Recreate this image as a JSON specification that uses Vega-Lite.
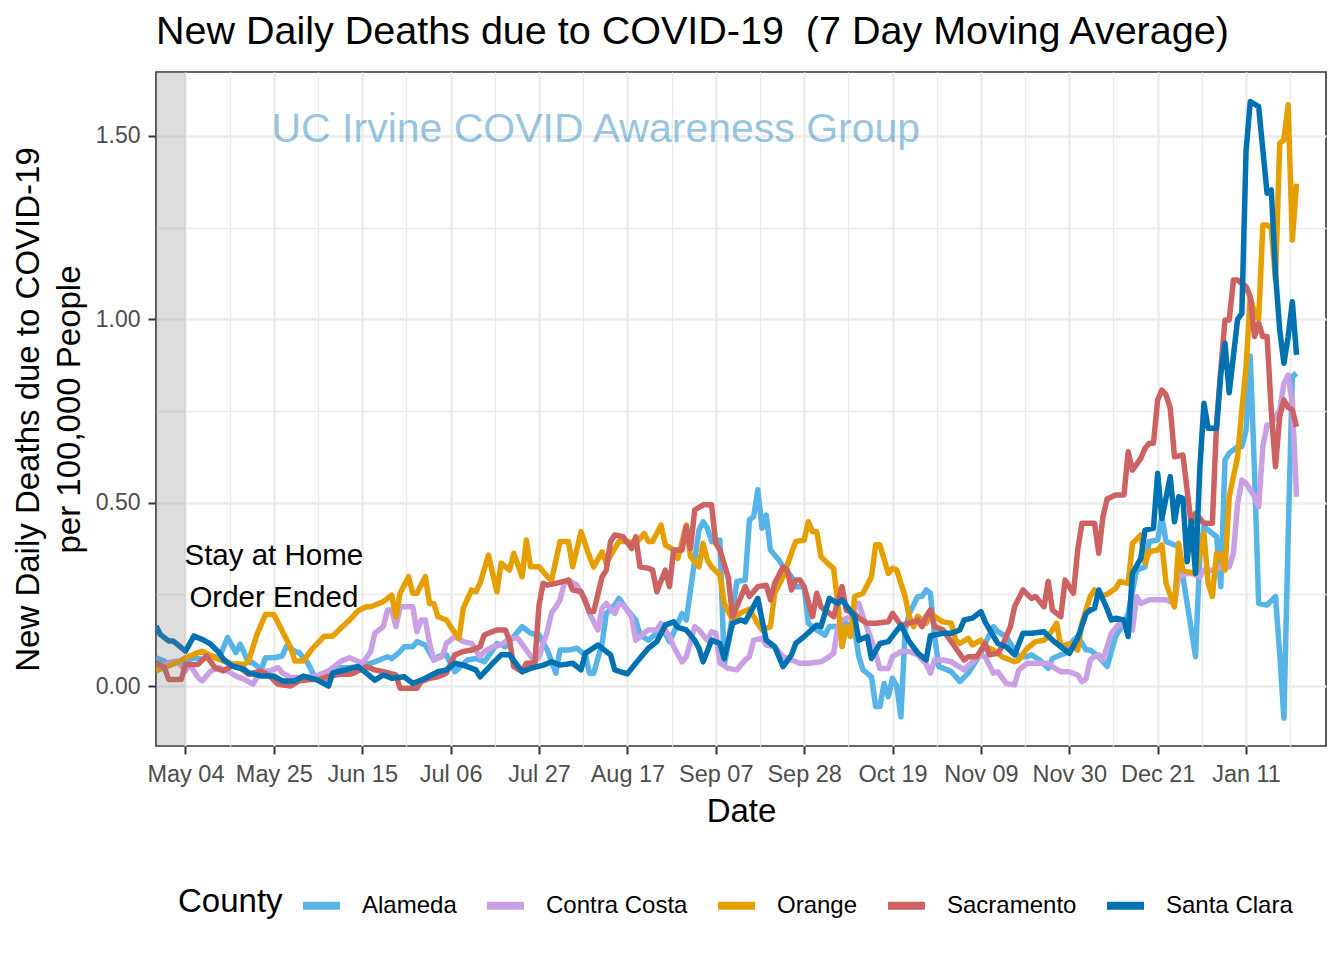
{
"$schema": "https://vega.github.io/schema/vega-lite/v6.json",
"width": 1170, "height": 674,
"autosize": {"type": "none"},
"padding": {"left": 156, "top": 72, "right": 18, "bottom": 214},
"background": "white",
"config": {"font": "Liberation Sans", "view": {"stroke": "#333333", "strokeWidth": 1.6}},
"title": {"text": "New Daily Deaths due to COVID-19\u00a0 (7 Day Moving Average)", "anchor": "start", "frame": "group", "fontSize": 39.5, "fontWeight": "normal", "color": "#000000", "font": "Liberation Sans", "offset": 20},
"datasets": {
"band": [{"start": "2020-04-20", "end": "2020-05-04"}],
"wm": [{"date": "2020-08-09T12:00:00Z", "value": 1.516, "label": "UC Irvine COVID Awareness Group"}],
"note": [{"date": "2020-05-25", "value": 0.3545, "label": "Stay at Home\nOrder Ended"}],
"deaths": [
{"date":"2020-04-27","county":"Alameda","value":0.077},{"date":"2020-04-29","county":"Alameda","value":0.068},{"date":"2020-04-30","county":"Alameda","value":0.059},{"date":"2020-05-02","county":"Alameda","value":0.064},{"date":"2020-05-04","county":"Alameda","value":0.068},{"date":"2020-05-06","county":"Alameda","value":0.077},{"date":"2020-05-08","county":"Alameda","value":0.073},{"date":"2020-05-10","county":"Alameda","value":0.082},{"date":"2020-05-12","county":"Alameda","value":0.077},{"date":"2020-05-14","county":"Alameda","value":0.132},{"date":"2020-05-16","county":"Alameda","value":0.091},{"date":"2020-05-17","county":"Alameda","value":0.114},{"date":"2020-05-19","county":"Alameda","value":0.064},{"date":"2020-05-20","county":"Alameda","value":0.064},{"date":"2020-05-22","county":"Alameda","value":0.045},{"date":"2020-05-23","county":"Alameda","value":0.077},{"date":"2020-05-25","county":"Alameda","value":0.077},{"date":"2020-05-27","county":"Alameda","value":0.082},{"date":"2020-05-28","county":"Alameda","value":0.109},{"date":"2020-05-30","county":"Alameda","value":0.095},{"date":"2020-05-31","county":"Alameda","value":0.091},{"date":"2020-06-02","county":"Alameda","value":0.064},{"date":"2020-06-04","county":"Alameda","value":0.018},{"date":"2020-06-07","county":"Alameda","value":0.005},{"date":"2020-06-08","county":"Alameda","value":0.041},{"date":"2020-06-10","county":"Alameda","value":0.05},{"date":"2020-06-12","county":"Alameda","value":0.05},{"date":"2020-06-14","county":"Alameda","value":0.053},{"date":"2020-06-17","county":"Alameda","value":0.062},{"date":"2020-06-18","county":"Alameda","value":0.066},{"date":"2020-06-21","county":"Alameda","value":0.08},{"date":"2020-06-22","county":"Alameda","value":0.075},{"date":"2020-06-24","county":"Alameda","value":0.094},{"date":"2020-06-25","county":"Alameda","value":0.107},{"date":"2020-06-27","county":"Alameda","value":0.107},{"date":"2020-06-28","county":"Alameda","value":0.121},{"date":"2020-06-30","county":"Alameda","value":0.112},{"date":"2020-07-02","county":"Alameda","value":0.071},{"date":"2020-07-03","county":"Alameda","value":0.08},{"date":"2020-07-05","county":"Alameda","value":0.085},{"date":"2020-07-07","county":"Alameda","value":0.039},{"date":"2020-07-10","county":"Alameda","value":0.071},{"date":"2020-07-12","county":"Alameda","value":0.075},{"date":"2020-07-14","county":"Alameda","value":0.066},{"date":"2020-07-16","county":"Alameda","value":0.098},{"date":"2020-07-17","county":"Alameda","value":0.116},{"date":"2020-07-19","county":"Alameda","value":0.107},{"date":"2020-07-21","county":"Alameda","value":0.135},{"date":"2020-07-23","county":"Alameda","value":0.162},{"date":"2020-07-25","county":"Alameda","value":0.144},{"date":"2020-07-27","county":"Alameda","value":0.14},{"date":"2020-07-28","county":"Alameda","value":0.116},{"date":"2020-07-29","county":"Alameda","value":0.098},{"date":"2020-07-31","county":"Alameda","value":0.035},{"date":"2020-08-01","county":"Alameda","value":0.098},{"date":"2020-08-03","county":"Alameda","value":0.098},{"date":"2020-08-05","county":"Alameda","value":0.103},{"date":"2020-08-07","county":"Alameda","value":0.085},{"date":"2020-08-08","county":"Alameda","value":0.035},{"date":"2020-08-09","county":"Alameda","value":0.035},{"date":"2020-08-11","county":"Alameda","value":0.116},{"date":"2020-08-12","county":"Alameda","value":0.198},{"date":"2020-08-14","county":"Alameda","value":0.221},{"date":"2020-08-15","county":"Alameda","value":0.239},{"date":"2020-08-17","county":"Alameda","value":0.207},{"date":"2020-08-19","county":"Alameda","value":0.18},{"date":"2020-08-20","county":"Alameda","value":0.139},{"date":"2020-08-22","county":"Alameda","value":0.125},{"date":"2020-08-24","county":"Alameda","value":0.144},{"date":"2020-08-26","county":"Alameda","value":0.144},{"date":"2020-08-27","county":"Alameda","value":0.121},{"date":"2020-08-29","county":"Alameda","value":0.171},{"date":"2020-08-30","county":"Alameda","value":0.198},{"date":"2020-08-31","county":"Alameda","value":0.18},{"date":"2020-09-02","county":"Alameda","value":0.344},{"date":"2020-09-03","county":"Alameda","value":0.425},{"date":"2020-09-04","county":"Alameda","value":0.448},{"date":"2020-09-05","county":"Alameda","value":0.43},{"date":"2020-09-06","county":"Alameda","value":0.394},{"date":"2020-09-08","county":"Alameda","value":0.398},{"date":"2020-09-09","county":"Alameda","value":0.057},{"date":"2020-09-10","county":"Alameda","value":0.116},{"date":"2020-09-12","county":"Alameda","value":0.285},{"date":"2020-09-14","county":"Alameda","value":0.289},{"date":"2020-09-15","county":"Alameda","value":0.453},{"date":"2020-09-16","county":"Alameda","value":0.462},{"date":"2020-09-17","county":"Alameda","value":0.535},{"date":"2020-09-18","county":"Alameda","value":0.43},{"date":"2020-09-19","county":"Alameda","value":0.466},{"date":"2020-09-20","county":"Alameda","value":0.371},{"date":"2020-09-21","county":"Alameda","value":0.357},{"date":"2020-09-22","county":"Alameda","value":0.344},{"date":"2020-09-23","county":"Alameda","value":0.325},{"date":"2020-09-25","county":"Alameda","value":0.298},{"date":"2020-09-26","county":"Alameda","value":0.271},{"date":"2020-09-28","county":"Alameda","value":0.271},{"date":"2020-09-29","county":"Alameda","value":0.171},{"date":"2020-10-01","county":"Alameda","value":0.153},{"date":"2020-10-03","county":"Alameda","value":0.139},{"date":"2020-10-04","county":"Alameda","value":0.162},{"date":"2020-10-06","county":"Alameda","value":0.162},{"date":"2020-10-08","county":"Alameda","value":0.171},{"date":"2020-10-10","county":"Alameda","value":0.153},{"date":"2020-10-11","county":"Alameda","value":0.08},{"date":"2020-10-12","county":"Alameda","value":0.044},{"date":"2020-10-14","county":"Alameda","value":0.025},{"date":"2020-10-15","county":"Alameda","value":-0.056},{"date":"2020-10-16","county":"Alameda","value":-0.056},{"date":"2020-10-17","county":"Alameda","value":0.007},{"date":"2020-10-18","county":"Alameda","value":-0.029},{"date":"2020-10-19","county":"Alameda","value":0.021},{"date":"2020-10-20","county":"Alameda","value":0.0},{"date":"2020-10-21","county":"Alameda","value":-0.084},{"date":"2020-10-22","county":"Alameda","value":0.153},{"date":"2020-10-23","county":"Alameda","value":0.198},{"date":"2020-10-25","county":"Alameda","value":0.244},{"date":"2020-10-26","county":"Alameda","value":0.244},{"date":"2020-10-27","county":"Alameda","value":0.262},{"date":"2020-10-28","county":"Alameda","value":0.253},{"date":"2020-10-29","county":"Alameda","value":0.135},{"date":"2020-10-30","county":"Alameda","value":0.053},{"date":"2020-11-01","county":"Alameda","value":0.044},{"date":"2020-11-02","county":"Alameda","value":0.039},{"date":"2020-11-04","county":"Alameda","value":0.012},{"date":"2020-11-06","county":"Alameda","value":0.035},{"date":"2020-11-07","county":"Alameda","value":0.053},{"date":"2020-11-09","county":"Alameda","value":0.089},{"date":"2020-11-10","county":"Alameda","value":0.116},{"date":"2020-11-12","county":"Alameda","value":0.162},{"date":"2020-11-13","county":"Alameda","value":0.148},{"date":"2020-11-15","county":"Alameda","value":0.135},{"date":"2020-11-17","county":"Alameda","value":0.098},{"date":"2020-11-18","county":"Alameda","value":0.08},{"date":"2020-11-20","county":"Alameda","value":0.08},{"date":"2020-11-21","county":"Alameda","value":0.085},{"date":"2020-11-23","county":"Alameda","value":0.071},{"date":"2020-11-25","county":"Alameda","value":0.048},{"date":"2020-11-26","county":"Alameda","value":0.075},{"date":"2020-11-28","county":"Alameda","value":0.085},{"date":"2020-11-29","county":"Alameda","value":0.089},{"date":"2020-12-01","county":"Alameda","value":0.125},{"date":"2020-12-02","county":"Alameda","value":0.135},{"date":"2020-12-04","county":"Alameda","value":0.098},{"date":"2020-12-05","county":"Alameda","value":0.098},{"date":"2020-12-07","county":"Alameda","value":0.08},{"date":"2020-12-09","county":"Alameda","value":0.053},{"date":"2020-12-11","county":"Alameda","value":0.135},{"date":"2020-12-13","county":"Alameda","value":0.171},{"date":"2020-12-14","county":"Alameda","value":0.198},{"date":"2020-12-16","county":"Alameda","value":0.316},{"date":"2020-12-18","county":"Alameda","value":0.325},{"date":"2020-12-19","county":"Alameda","value":0.394},{"date":"2020-12-21","county":"Alameda","value":0.398},{"date":"2020-12-22","county":"Alameda","value":0.462},{"date":"2020-12-23","county":"Alameda","value":0.394},{"date":"2020-12-25","county":"Alameda","value":0.385},{"date":"2020-12-26","county":"Alameda","value":0.38},{"date":"2020-12-27","county":"Alameda","value":0.298},{"date":"2020-12-29","county":"Alameda","value":0.153},{"date":"2020-12-30","county":"Alameda","value":0.08},{"date":"2020-12-31","county":"Alameda","value":0.353},{"date":"2021-01-01","county":"Alameda","value":0.435},{"date":"2021-01-02","county":"Alameda","value":0.425},{"date":"2021-01-04","county":"Alameda","value":0.407},{"date":"2021-01-05","county":"Alameda","value":0.271},{"date":"2021-01-06","county":"Alameda","value":0.616},{"date":"2021-01-07","county":"Alameda","value":0.635},{"date":"2021-01-09","county":"Alameda","value":0.653},{"date":"2021-01-10","county":"Alameda","value":0.653},{"date":"2021-01-11","county":"Alameda","value":0.698},{"date":"2021-01-12","county":"Alameda","value":0.9},{"date":"2021-01-13","county":"Alameda","value":0.589},{"date":"2021-01-14","county":"Alameda","value":0.225},{"date":"2021-01-16","county":"Alameda","value":0.221},{"date":"2021-01-18","county":"Alameda","value":0.244},{"date":"2021-01-19","county":"Alameda","value":0.089},{"date":"2021-01-20","county":"Alameda","value":-0.088},{"date":"2021-01-21","county":"Alameda","value":0.407},{"date":"2021-01-22","county":"Alameda","value":0.844},{"date":"2021-01-23","county":"Alameda","value":0.853},
{"date":"2020-04-27","county":"Contra Costa","value":0.041},{"date":"2020-04-30","county":"Contra Costa","value":0.064},{"date":"2020-05-02","county":"Contra Costa","value":0.068},{"date":"2020-05-04","county":"Contra Costa","value":0.041},{"date":"2020-05-05","county":"Contra Costa","value":0.059},{"date":"2020-05-07","county":"Contra Costa","value":0.023},{"date":"2020-05-08","county":"Contra Costa","value":0.014},{"date":"2020-05-10","county":"Contra Costa","value":0.041},{"date":"2020-05-12","county":"Contra Costa","value":0.05},{"date":"2020-05-14","county":"Contra Costa","value":0.041},{"date":"2020-05-16","county":"Contra Costa","value":0.027},{"date":"2020-05-18","county":"Contra Costa","value":0.018},{"date":"2020-05-20","county":"Contra Costa","value":0.005},{"date":"2020-05-22","county":"Contra Costa","value":0.041},{"date":"2020-05-24","county":"Contra Costa","value":0.041},{"date":"2020-05-26","county":"Contra Costa","value":0.05},{"date":"2020-05-27","county":"Contra Costa","value":0.036},{"date":"2020-05-29","county":"Contra Costa","value":0.023},{"date":"2020-06-01","county":"Contra Costa","value":0.023},{"date":"2020-06-04","county":"Contra Costa","value":0.027},{"date":"2020-06-07","county":"Contra Costa","value":0.041},{"date":"2020-06-10","county":"Contra Costa","value":0.068},{"date":"2020-06-12","county":"Contra Costa","value":0.077},{"date":"2020-06-15","county":"Contra Costa","value":0.062},{"date":"2020-06-17","county":"Contra Costa","value":0.094},{"date":"2020-06-18","county":"Contra Costa","value":0.144},{"date":"2020-06-20","county":"Contra Costa","value":0.162},{"date":"2020-06-21","county":"Contra Costa","value":0.207},{"date":"2020-06-22","county":"Contra Costa","value":0.207},{"date":"2020-06-23","county":"Contra Costa","value":0.162},{"date":"2020-06-24","county":"Contra Costa","value":0.216},{"date":"2020-06-27","county":"Contra Costa","value":0.216},{"date":"2020-06-28","county":"Contra Costa","value":0.148},{"date":"2020-06-29","county":"Contra Costa","value":0.18},{"date":"2020-06-30","county":"Contra Costa","value":0.18},{"date":"2020-07-01","county":"Contra Costa","value":0.116},{"date":"2020-07-02","county":"Contra Costa","value":0.071},{"date":"2020-07-04","county":"Contra Costa","value":0.08},{"date":"2020-07-05","county":"Contra Costa","value":0.116},{"date":"2020-07-07","county":"Contra Costa","value":0.135},{"date":"2020-07-09","county":"Contra Costa","value":0.121},{"date":"2020-07-11","county":"Contra Costa","value":0.116},{"date":"2020-07-13","county":"Contra Costa","value":0.08},{"date":"2020-07-14","county":"Contra Costa","value":0.094},{"date":"2020-07-16","county":"Contra Costa","value":0.107},{"date":"2020-07-18","county":"Contra Costa","value":0.112},{"date":"2020-07-20","county":"Contra Costa","value":0.13},{"date":"2020-07-22","county":"Contra Costa","value":0.13},{"date":"2020-07-24","county":"Contra Costa","value":0.098},{"date":"2020-07-26","county":"Contra Costa","value":0.066},{"date":"2020-07-27","county":"Contra Costa","value":0.08},{"date":"2020-07-29","county":"Contra Costa","value":0.15},{"date":"2020-07-30","county":"Contra Costa","value":0.2},{"date":"2020-07-31","county":"Contra Costa","value":0.216},{"date":"2020-08-01","county":"Contra Costa","value":0.235},{"date":"2020-08-02","county":"Contra Costa","value":0.28},{"date":"2020-08-03","county":"Contra Costa","value":0.289},{"date":"2020-08-05","county":"Contra Costa","value":0.275},{"date":"2020-08-07","county":"Contra Costa","value":0.235},{"date":"2020-08-08","county":"Contra Costa","value":0.198},{"date":"2020-08-10","county":"Contra Costa","value":0.153},{"date":"2020-08-11","county":"Contra Costa","value":0.212},{"date":"2020-08-12","county":"Contra Costa","value":0.225},{"date":"2020-08-14","county":"Contra Costa","value":0.198},{"date":"2020-08-15","county":"Contra Costa","value":0.225},{"date":"2020-08-16","county":"Contra Costa","value":0.221},{"date":"2020-08-18","county":"Contra Costa","value":0.189},{"date":"2020-08-19","county":"Contra Costa","value":0.125},{"date":"2020-08-21","county":"Contra Costa","value":0.144},{"date":"2020-08-22","county":"Contra Costa","value":0.153},{"date":"2020-08-24","county":"Contra Costa","value":0.153},{"date":"2020-08-25","county":"Contra Costa","value":0.171},{"date":"2020-08-27","county":"Contra Costa","value":0.135},{"date":"2020-08-28","county":"Contra Costa","value":0.107},{"date":"2020-08-30","county":"Contra Costa","value":0.066},{"date":"2020-08-31","county":"Contra Costa","value":0.08},{"date":"2020-09-02","county":"Contra Costa","value":0.162},{"date":"2020-09-03","county":"Contra Costa","value":0.153},{"date":"2020-09-05","county":"Contra Costa","value":0.125},{"date":"2020-09-06","county":"Contra Costa","value":0.148},{"date":"2020-09-07","county":"Contra Costa","value":0.144},{"date":"2020-09-08","county":"Contra Costa","value":0.062},{"date":"2020-09-10","county":"Contra Costa","value":0.048},{"date":"2020-09-12","county":"Contra Costa","value":0.044},{"date":"2020-09-14","county":"Contra Costa","value":0.071},{"date":"2020-09-15","county":"Contra Costa","value":0.08},{"date":"2020-09-16","county":"Contra Costa","value":0.125},{"date":"2020-09-18","county":"Contra Costa","value":0.13},{"date":"2020-09-19","county":"Contra Costa","value":0.112},{"date":"2020-09-21","county":"Contra Costa","value":0.107},{"date":"2020-09-23","county":"Contra Costa","value":0.08},{"date":"2020-09-25","county":"Contra Costa","value":0.071},{"date":"2020-09-27","county":"Contra Costa","value":0.062},{"date":"2020-09-29","county":"Contra Costa","value":0.062},{"date":"2020-10-02","county":"Contra Costa","value":0.066},{"date":"2020-10-04","county":"Contra Costa","value":0.08},{"date":"2020-10-05","county":"Contra Costa","value":0.089},{"date":"2020-10-06","county":"Contra Costa","value":0.162},{"date":"2020-10-07","county":"Contra Costa","value":0.18},{"date":"2020-10-09","county":"Contra Costa","value":0.189},{"date":"2020-10-10","county":"Contra Costa","value":0.212},{"date":"2020-10-11","county":"Contra Costa","value":0.225},{"date":"2020-10-12","county":"Contra Costa","value":0.189},{"date":"2020-10-14","county":"Contra Costa","value":0.125},{"date":"2020-10-15","county":"Contra Costa","value":0.089},{"date":"2020-10-16","county":"Contra Costa","value":0.048},{"date":"2020-10-18","county":"Contra Costa","value":0.048},{"date":"2020-10-19","county":"Contra Costa","value":0.08},{"date":"2020-10-21","county":"Contra Costa","value":0.094},{"date":"2020-10-23","county":"Contra Costa","value":0.094},{"date":"2020-10-25","county":"Contra Costa","value":0.085},{"date":"2020-10-27","county":"Contra Costa","value":0.06},{"date":"2020-10-28","county":"Contra Costa","value":0.035},{"date":"2020-10-29","county":"Contra Costa","value":0.071},{"date":"2020-10-31","county":"Contra Costa","value":0.071},{"date":"2020-11-02","county":"Contra Costa","value":0.066},{"date":"2020-11-05","county":"Contra Costa","value":0.044},{"date":"2020-11-07","county":"Contra Costa","value":0.066},{"date":"2020-11-09","county":"Contra Costa","value":0.085},{"date":"2020-11-10","county":"Contra Costa","value":0.08},{"date":"2020-11-12","county":"Contra Costa","value":0.035},{"date":"2020-11-13","county":"Contra Costa","value":0.039},{"date":"2020-11-15","county":"Contra Costa","value":0.007},{"date":"2020-11-17","county":"Contra Costa","value":0.003},{"date":"2020-11-18","county":"Contra Costa","value":0.044},{"date":"2020-11-20","county":"Contra Costa","value":0.062},{"date":"2020-11-22","county":"Contra Costa","value":0.062},{"date":"2020-11-25","county":"Contra Costa","value":0.062},{"date":"2020-11-26","county":"Contra Costa","value":0.053},{"date":"2020-11-28","county":"Contra Costa","value":0.039},{"date":"2020-11-30","county":"Contra Costa","value":0.039},{"date":"2020-12-02","county":"Contra Costa","value":0.03},{"date":"2020-12-03","county":"Contra Costa","value":0.012},{"date":"2020-12-04","county":"Contra Costa","value":0.02},{"date":"2020-12-05","county":"Contra Costa","value":0.071},{"date":"2020-12-06","county":"Contra Costa","value":0.08},{"date":"2020-12-07","county":"Contra Costa","value":0.085},{"date":"2020-12-08","county":"Contra Costa","value":0.071},{"date":"2020-12-10","county":"Contra Costa","value":0.144},{"date":"2020-12-12","county":"Contra Costa","value":0.171},{"date":"2020-12-13","county":"Contra Costa","value":0.162},{"date":"2020-12-15","county":"Contra Costa","value":0.153},{"date":"2020-12-16","county":"Contra Costa","value":0.244},{"date":"2020-12-17","county":"Contra Costa","value":0.225},{"date":"2020-12-19","county":"Contra Costa","value":0.235},{"date":"2020-12-21","county":"Contra Costa","value":0.235},{"date":"2020-12-23","county":"Contra Costa","value":0.235},{"date":"2020-12-25","county":"Contra Costa","value":0.225},{"date":"2020-12-26","county":"Contra Costa","value":0.298},{"date":"2020-12-28","county":"Contra Costa","value":0.307},{"date":"2020-12-29","county":"Contra Costa","value":0.307},{"date":"2020-12-31","county":"Contra Costa","value":0.298},{"date":"2021-01-01","county":"Contra Costa","value":0.316},{"date":"2021-01-03","county":"Contra Costa","value":0.316},{"date":"2021-01-05","county":"Contra Costa","value":0.325},{"date":"2021-01-07","county":"Contra Costa","value":0.325},{"date":"2021-01-08","county":"Contra Costa","value":0.362},{"date":"2021-01-09","county":"Contra Costa","value":0.498},{"date":"2021-01-10","county":"Contra Costa","value":0.562},{"date":"2021-01-11","county":"Contra Costa","value":0.553},{"date":"2021-01-13","county":"Contra Costa","value":0.516},{"date":"2021-01-14","county":"Contra Costa","value":0.489},{"date":"2021-01-15","county":"Contra Costa","value":0.653},{"date":"2021-01-16","county":"Contra Costa","value":0.712},{"date":"2021-01-17","county":"Contra Costa","value":0.712},{"date":"2021-01-19","county":"Contra Costa","value":0.753},{"date":"2021-01-20","county":"Contra Costa","value":0.825},{"date":"2021-01-21","county":"Contra Costa","value":0.848},{"date":"2021-01-22","county":"Contra Costa","value":0.771},{"date":"2021-01-23","county":"Contra Costa","value":0.516},
{"date":"2020-04-27","county":"Orange","value":0.041},{"date":"2020-04-29","county":"Orange","value":0.05},{"date":"2020-05-02","county":"Orange","value":0.064},{"date":"2020-05-04","county":"Orange","value":0.077},{"date":"2020-05-07","county":"Orange","value":0.091},{"date":"2020-05-08","county":"Orange","value":0.095},{"date":"2020-05-11","county":"Orange","value":0.077},{"date":"2020-05-13","county":"Orange","value":0.068},{"date":"2020-05-15","county":"Orange","value":0.061},{"date":"2020-05-18","county":"Orange","value":0.059},{"date":"2020-05-19","county":"Orange","value":0.068},{"date":"2020-05-21","county":"Orange","value":0.141},{"date":"2020-05-23","county":"Orange","value":0.195},{"date":"2020-05-25","county":"Orange","value":0.195},{"date":"2020-05-27","county":"Orange","value":0.15},{"date":"2020-05-29","county":"Orange","value":0.105},{"date":"2020-05-30","county":"Orange","value":0.068},{"date":"2020-06-01","county":"Orange","value":0.068},{"date":"2020-06-03","county":"Orange","value":0.1},{"date":"2020-06-06","county":"Orange","value":0.136},{"date":"2020-06-08","county":"Orange","value":0.136},{"date":"2020-06-10","county":"Orange","value":0.159},{"date":"2020-06-12","county":"Orange","value":0.18},{"date":"2020-06-14","county":"Orange","value":0.205},{"date":"2020-06-16","county":"Orange","value":0.216},{"date":"2020-06-17","county":"Orange","value":0.216},{"date":"2020-06-19","county":"Orange","value":0.225},{"date":"2020-06-20","county":"Orange","value":0.23},{"date":"2020-06-22","county":"Orange","value":0.248},{"date":"2020-06-23","county":"Orange","value":0.189},{"date":"2020-06-24","county":"Orange","value":0.253},{"date":"2020-06-26","county":"Orange","value":0.298},{"date":"2020-06-27","county":"Orange","value":0.253},{"date":"2020-06-28","county":"Orange","value":0.253},{"date":"2020-06-30","county":"Orange","value":0.298},{"date":"2020-07-01","county":"Orange","value":0.225},{"date":"2020-07-02","county":"Orange","value":0.225},{"date":"2020-07-03","county":"Orange","value":0.189},{"date":"2020-07-05","county":"Orange","value":0.18},{"date":"2020-07-06","county":"Orange","value":0.162},{"date":"2020-07-08","county":"Orange","value":0.13},{"date":"2020-07-09","county":"Orange","value":0.212},{"date":"2020-07-11","county":"Orange","value":0.262},{"date":"2020-07-12","county":"Orange","value":0.257},{"date":"2020-07-13","county":"Orange","value":0.28},{"date":"2020-07-15","county":"Orange","value":0.357},{"date":"2020-07-17","county":"Orange","value":0.257},{"date":"2020-07-18","county":"Orange","value":0.335},{"date":"2020-07-20","county":"Orange","value":0.316},{"date":"2020-07-21","county":"Orange","value":0.362},{"date":"2020-07-23","county":"Orange","value":0.298},{"date":"2020-07-24","county":"Orange","value":0.398},{"date":"2020-07-25","county":"Orange","value":0.325},{"date":"2020-07-27","county":"Orange","value":0.325},{"date":"2020-07-28","county":"Orange","value":0.312},{"date":"2020-07-29","county":"Orange","value":0.298},{"date":"2020-07-30","county":"Orange","value":0.289},{"date":"2020-08-01","county":"Orange","value":0.394},{"date":"2020-08-03","county":"Orange","value":0.394},{"date":"2020-08-04","county":"Orange","value":0.325},{"date":"2020-08-06","county":"Orange","value":0.421},{"date":"2020-08-08","county":"Orange","value":0.353},{"date":"2020-08-09","county":"Orange","value":0.325},{"date":"2020-08-11","county":"Orange","value":0.366},{"date":"2020-08-12","county":"Orange","value":0.335},{"date":"2020-08-14","county":"Orange","value":0.375},{"date":"2020-08-15","county":"Orange","value":0.394},{"date":"2020-08-17","county":"Orange","value":0.394},{"date":"2020-08-19","county":"Orange","value":0.389},{"date":"2020-08-21","county":"Orange","value":0.416},{"date":"2020-08-22","county":"Orange","value":0.394},{"date":"2020-08-23","county":"Orange","value":0.394},{"date":"2020-08-25","county":"Orange","value":0.439},{"date":"2020-08-26","county":"Orange","value":0.385},{"date":"2020-08-28","county":"Orange","value":0.371},{"date":"2020-08-29","county":"Orange","value":0.348},{"date":"2020-08-31","county":"Orange","value":0.439},{"date":"2020-09-01","county":"Orange","value":0.353},{"date":"2020-09-03","county":"Orange","value":0.325},{"date":"2020-09-04","county":"Orange","value":0.389},{"date":"2020-09-05","county":"Orange","value":0.344},{"date":"2020-09-06","county":"Orange","value":0.325},{"date":"2020-09-08","county":"Orange","value":0.303},{"date":"2020-09-09","county":"Orange","value":0.225},{"date":"2020-09-11","county":"Orange","value":0.18},{"date":"2020-09-13","county":"Orange","value":0.2},{"date":"2020-09-15","county":"Orange","value":0.21},{"date":"2020-09-17","county":"Orange","value":0.17},{"date":"2020-09-18","county":"Orange","value":0.153},{"date":"2020-09-20","county":"Orange","value":0.162},{"date":"2020-09-21","county":"Orange","value":0.253},{"date":"2020-09-23","county":"Orange","value":0.298},{"date":"2020-09-25","county":"Orange","value":0.362},{"date":"2020-09-26","county":"Orange","value":0.394},{"date":"2020-09-28","county":"Orange","value":0.398},{"date":"2020-09-29","county":"Orange","value":0.448},{"date":"2020-09-30","county":"Orange","value":0.421},{"date":"2020-10-01","county":"Orange","value":0.421},{"date":"2020-10-02","county":"Orange","value":0.353},{"date":"2020-10-04","county":"Orange","value":0.33},{"date":"2020-10-05","county":"Orange","value":0.321},{"date":"2020-10-06","county":"Orange","value":0.225},{"date":"2020-10-07","county":"Orange","value":0.107},{"date":"2020-10-08","county":"Orange","value":0.162},{"date":"2020-10-09","county":"Orange","value":0.135},{"date":"2020-10-10","county":"Orange","value":0.244},{"date":"2020-10-12","county":"Orange","value":0.253},{"date":"2020-10-14","county":"Orange","value":0.298},{"date":"2020-10-15","county":"Orange","value":0.385},{"date":"2020-10-16","county":"Orange","value":0.385},{"date":"2020-10-18","county":"Orange","value":0.307},{"date":"2020-10-19","county":"Orange","value":0.321},{"date":"2020-10-20","county":"Orange","value":0.316},{"date":"2020-10-22","county":"Orange","value":0.244},{"date":"2020-10-23","county":"Orange","value":0.189},{"date":"2020-10-24","county":"Orange","value":0.162},{"date":"2020-10-25","county":"Orange","value":0.19},{"date":"2020-10-27","county":"Orange","value":0.171},{"date":"2020-10-28","county":"Orange","value":0.205},{"date":"2020-10-29","county":"Orange","value":0.189},{"date":"2020-10-31","county":"Orange","value":0.175},{"date":"2020-11-02","county":"Orange","value":0.171},{"date":"2020-11-03","county":"Orange","value":0.125},{"date":"2020-11-04","county":"Orange","value":0.116},{"date":"2020-11-06","county":"Orange","value":0.13},{"date":"2020-11-07","county":"Orange","value":0.112},{"date":"2020-11-09","county":"Orange","value":0.125},{"date":"2020-11-10","county":"Orange","value":0.107},{"date":"2020-11-12","county":"Orange","value":0.098},{"date":"2020-11-14","county":"Orange","value":0.08},{"date":"2020-11-17","county":"Orange","value":0.066},{"date":"2020-11-18","county":"Orange","value":0.071},{"date":"2020-11-20","county":"Orange","value":0.103},{"date":"2020-11-22","county":"Orange","value":0.121},{"date":"2020-11-24","county":"Orange","value":0.125},{"date":"2020-11-25","county":"Orange","value":0.135},{"date":"2020-11-27","county":"Orange","value":0.171},{"date":"2020-11-28","county":"Orange","value":0.107},{"date":"2020-11-30","county":"Orange","value":0.116},{"date":"2020-12-02","county":"Orange","value":0.098},{"date":"2020-12-03","county":"Orange","value":0.171},{"date":"2020-12-05","county":"Orange","value":0.245},{"date":"2020-12-06","county":"Orange","value":0.262},{"date":"2020-12-07","county":"Orange","value":0.244},{"date":"2020-12-09","county":"Orange","value":0.25},{"date":"2020-12-11","county":"Orange","value":0.266},{"date":"2020-12-12","county":"Orange","value":0.285},{"date":"2020-12-14","county":"Orange","value":0.28},{"date":"2020-12-15","county":"Orange","value":0.389},{"date":"2020-12-17","county":"Orange","value":0.412},{"date":"2020-12-18","county":"Orange","value":0.335},{"date":"2020-12-19","county":"Orange","value":0.366},{"date":"2020-12-21","county":"Orange","value":0.371},{"date":"2020-12-22","county":"Orange","value":0.385},{"date":"2020-12-23","county":"Orange","value":0.28},{"date":"2020-12-25","county":"Orange","value":0.216},{"date":"2020-12-26","county":"Orange","value":0.389},{"date":"2020-12-27","county":"Orange","value":0.316},{"date":"2020-12-28","county":"Orange","value":0.312},{"date":"2020-12-30","county":"Orange","value":0.307},{"date":"2021-01-01","county":"Orange","value":0.416},{"date":"2021-01-02","county":"Orange","value":0.28},{"date":"2021-01-03","county":"Orange","value":0.244},{"date":"2021-01-04","county":"Orange","value":0.362},{"date":"2021-01-05","county":"Orange","value":0.357},{"date":"2021-01-06","county":"Orange","value":0.316},{"date":"2021-01-07","county":"Orange","value":0.516},{"date":"2021-01-09","county":"Orange","value":0.625},{"date":"2021-01-10","county":"Orange","value":0.753},{"date":"2021-01-11","county":"Orange","value":0.87},{"date":"2021-01-12","county":"Orange","value":1.06},{"date":"2021-01-13","county":"Orange","value":1.02},{"date":"2021-01-14","county":"Orange","value":1.0},{"date":"2021-01-15","county":"Orange","value":1.257},{"date":"2021-01-16","county":"Orange","value":1.257},{"date":"2021-01-17","county":"Orange","value":1.25},{"date":"2021-01-18","county":"Orange","value":1.107},{"date":"2021-01-19","county":"Orange","value":1.48},{"date":"2021-01-20","county":"Orange","value":1.49},{"date":"2021-01-21","county":"Orange","value":1.585},{"date":"2021-01-22","county":"Orange","value":1.216},{"date":"2021-01-23","county":"Orange","value":1.37},
{"date":"2020-04-27","county":"Sacramento","value":0.064},{"date":"2020-04-29","county":"Sacramento","value":0.05},{"date":"2020-04-30","county":"Sacramento","value":0.018},{"date":"2020-05-03","county":"Sacramento","value":0.018},{"date":"2020-05-04","county":"Sacramento","value":0.059},{"date":"2020-05-07","county":"Sacramento","value":0.059},{"date":"2020-05-09","county":"Sacramento","value":0.082},{"date":"2020-05-11","county":"Sacramento","value":0.05},{"date":"2020-05-13","county":"Sacramento","value":0.041},{"date":"2020-05-15","county":"Sacramento","value":0.055},{"date":"2020-05-17","county":"Sacramento","value":0.05},{"date":"2020-05-19","county":"Sacramento","value":0.032},{"date":"2020-05-22","county":"Sacramento","value":0.041},{"date":"2020-05-24","county":"Sacramento","value":0.027},{"date":"2020-05-26","county":"Sacramento","value":0.005},{"date":"2020-05-29","county":"Sacramento","value":0.0},{"date":"2020-05-31","county":"Sacramento","value":0.014},{"date":"2020-06-03","county":"Sacramento","value":0.018},{"date":"2020-06-05","county":"Sacramento","value":0.018},{"date":"2020-06-07","county":"Sacramento","value":0.027},{"date":"2020-06-10","county":"Sacramento","value":0.032},{"date":"2020-06-12","county":"Sacramento","value":0.032},{"date":"2020-06-13","county":"Sacramento","value":0.035},{"date":"2020-06-16","county":"Sacramento","value":0.053},{"date":"2020-06-18","county":"Sacramento","value":0.044},{"date":"2020-06-20","county":"Sacramento","value":0.039},{"date":"2020-06-23","county":"Sacramento","value":0.03},{"date":"2020-06-24","county":"Sacramento","value":-0.006},{"date":"2020-06-26","county":"Sacramento","value":-0.006},{"date":"2020-06-28","county":"Sacramento","value":-0.006},{"date":"2020-06-29","county":"Sacramento","value":0.012},{"date":"2020-07-01","county":"Sacramento","value":0.021},{"date":"2020-07-03","county":"Sacramento","value":0.025},{"date":"2020-07-05","county":"Sacramento","value":0.035},{"date":"2020-07-07","county":"Sacramento","value":0.085},{"date":"2020-07-09","county":"Sacramento","value":0.094},{"date":"2020-07-11","county":"Sacramento","value":0.098},{"date":"2020-07-13","county":"Sacramento","value":0.107},{"date":"2020-07-14","county":"Sacramento","value":0.139},{"date":"2020-07-15","county":"Sacramento","value":0.144},{"date":"2020-07-17","county":"Sacramento","value":0.153},{"date":"2020-07-19","county":"Sacramento","value":0.153},{"date":"2020-07-20","county":"Sacramento","value":0.125},{"date":"2020-07-21","county":"Sacramento","value":0.053},{"date":"2020-07-23","county":"Sacramento","value":0.039},{"date":"2020-07-24","county":"Sacramento","value":0.062},{"date":"2020-07-26","county":"Sacramento","value":0.062},{"date":"2020-07-27","county":"Sacramento","value":0.22},{"date":"2020-07-28","county":"Sacramento","value":0.28},{"date":"2020-07-29","county":"Sacramento","value":0.275},{"date":"2020-07-31","county":"Sacramento","value":0.28},{"date":"2020-08-03","county":"Sacramento","value":0.289},{"date":"2020-08-04","county":"Sacramento","value":0.262},{"date":"2020-08-06","county":"Sacramento","value":0.257},{"date":"2020-08-08","county":"Sacramento","value":0.203},{"date":"2020-08-09","county":"Sacramento","value":0.203},{"date":"2020-08-11","county":"Sacramento","value":0.298},{"date":"2020-08-12","county":"Sacramento","value":0.316},{"date":"2020-08-13","county":"Sacramento","value":0.394},{"date":"2020-08-14","county":"Sacramento","value":0.412},{"date":"2020-08-16","county":"Sacramento","value":0.407},{"date":"2020-08-18","county":"Sacramento","value":0.375},{"date":"2020-08-19","county":"Sacramento","value":0.407},{"date":"2020-08-20","county":"Sacramento","value":0.325},{"date":"2020-08-22","county":"Sacramento","value":0.321},{"date":"2020-08-23","county":"Sacramento","value":0.316},{"date":"2020-08-24","county":"Sacramento","value":0.257},{"date":"2020-08-26","county":"Sacramento","value":0.316},{"date":"2020-08-27","county":"Sacramento","value":0.271},{"date":"2020-08-28","county":"Sacramento","value":0.371},{"date":"2020-08-30","county":"Sacramento","value":0.371},{"date":"2020-08-31","county":"Sacramento","value":0.435},{"date":"2020-09-01","county":"Sacramento","value":0.375},{"date":"2020-09-02","county":"Sacramento","value":0.48},{"date":"2020-09-04","county":"Sacramento","value":0.494},{"date":"2020-09-06","county":"Sacramento","value":0.494},{"date":"2020-09-07","county":"Sacramento","value":0.389},{"date":"2020-09-08","county":"Sacramento","value":0.371},{"date":"2020-09-10","county":"Sacramento","value":0.295},{"date":"2020-09-11","county":"Sacramento","value":0.189},{"date":"2020-09-14","county":"Sacramento","value":0.271},{"date":"2020-09-15","county":"Sacramento","value":0.244},{"date":"2020-09-17","county":"Sacramento","value":0.271},{"date":"2020-09-19","county":"Sacramento","value":0.275},{"date":"2020-09-20","county":"Sacramento","value":0.235},{"date":"2020-09-21","county":"Sacramento","value":0.28},{"date":"2020-09-23","county":"Sacramento","value":0.325},{"date":"2020-09-24","county":"Sacramento","value":0.316},{"date":"2020-09-25","county":"Sacramento","value":0.262},{"date":"2020-09-26","county":"Sacramento","value":0.289},{"date":"2020-09-27","county":"Sacramento","value":0.289},{"date":"2020-09-28","county":"Sacramento","value":0.271},{"date":"2020-09-30","county":"Sacramento","value":0.189},{"date":"2020-10-01","county":"Sacramento","value":0.253},{"date":"2020-10-02","county":"Sacramento","value":0.216},{"date":"2020-10-03","county":"Sacramento","value":0.207},{"date":"2020-10-05","county":"Sacramento","value":0.189},{"date":"2020-10-07","county":"Sacramento","value":0.271},{"date":"2020-10-08","county":"Sacramento","value":0.207},{"date":"2020-10-10","county":"Sacramento","value":0.198},{"date":"2020-10-11","county":"Sacramento","value":0.185},{"date":"2020-10-13","county":"Sacramento","value":0.171},{"date":"2020-10-15","county":"Sacramento","value":0.171},{"date":"2020-10-18","county":"Sacramento","value":0.175},{"date":"2020-10-19","county":"Sacramento","value":0.198},{"date":"2020-10-21","county":"Sacramento","value":0.166},{"date":"2020-10-23","county":"Sacramento","value":0.171},{"date":"2020-10-25","county":"Sacramento","value":0.18},{"date":"2020-10-26","county":"Sacramento","value":0.162},{"date":"2020-10-27","county":"Sacramento","value":0.19},{"date":"2020-10-28","county":"Sacramento","value":0.207},{"date":"2020-10-29","county":"Sacramento","value":0.162},{"date":"2020-10-31","county":"Sacramento","value":0.153},{"date":"2020-11-02","county":"Sacramento","value":0.12},{"date":"2020-11-05","county":"Sacramento","value":0.071},{"date":"2020-11-06","county":"Sacramento","value":0.08},{"date":"2020-11-08","county":"Sacramento","value":0.08},{"date":"2020-11-10","county":"Sacramento","value":0.116},{"date":"2020-11-11","county":"Sacramento","value":0.085},{"date":"2020-11-13","county":"Sacramento","value":0.089},{"date":"2020-11-14","county":"Sacramento","value":0.107},{"date":"2020-11-16","county":"Sacramento","value":0.162},{"date":"2020-11-17","county":"Sacramento","value":0.216},{"date":"2020-11-19","county":"Sacramento","value":0.262},{"date":"2020-11-21","county":"Sacramento","value":0.239},{"date":"2020-11-22","county":"Sacramento","value":0.244},{"date":"2020-11-24","county":"Sacramento","value":0.216},{"date":"2020-11-25","county":"Sacramento","value":0.285},{"date":"2020-11-26","county":"Sacramento","value":0.207},{"date":"2020-11-28","county":"Sacramento","value":0.189},{"date":"2020-11-29","county":"Sacramento","value":0.289},{"date":"2020-12-01","county":"Sacramento","value":0.253},{"date":"2020-12-02","county":"Sacramento","value":0.371},{"date":"2020-12-03","county":"Sacramento","value":0.444},{"date":"2020-12-05","county":"Sacramento","value":0.444},{"date":"2020-12-06","county":"Sacramento","value":0.444},{"date":"2020-12-07","county":"Sacramento","value":0.362},{"date":"2020-12-08","county":"Sacramento","value":0.462},{"date":"2020-12-09","county":"Sacramento","value":0.51},{"date":"2020-12-11","county":"Sacramento","value":0.521},{"date":"2020-12-13","county":"Sacramento","value":0.521},{"date":"2020-12-14","county":"Sacramento","value":0.639},{"date":"2020-12-15","county":"Sacramento","value":0.589},{"date":"2020-12-17","county":"Sacramento","value":0.621},{"date":"2020-12-18","county":"Sacramento","value":0.648},{"date":"2020-12-19","county":"Sacramento","value":0.662},{"date":"2020-12-20","county":"Sacramento","value":0.662},{"date":"2020-12-21","county":"Sacramento","value":0.78},{"date":"2020-12-22","county":"Sacramento","value":0.807},{"date":"2020-12-23","county":"Sacramento","value":0.794},{"date":"2020-12-24","county":"Sacramento","value":0.757},{"date":"2020-12-25","county":"Sacramento","value":0.625},{"date":"2020-12-27","county":"Sacramento","value":0.63},{"date":"2020-12-28","county":"Sacramento","value":0.535},{"date":"2020-12-29","county":"Sacramento","value":0.439},{"date":"2020-12-30","county":"Sacramento","value":0.471},{"date":"2021-01-01","county":"Sacramento","value":0.444},{"date":"2021-01-03","county":"Sacramento","value":0.444},{"date":"2021-01-04","county":"Sacramento","value":0.716},{"date":"2021-01-05","county":"Sacramento","value":0.862},{"date":"2021-01-06","county":"Sacramento","value":0.998},{"date":"2021-01-07","county":"Sacramento","value":0.998},{"date":"2021-01-08","county":"Sacramento","value":1.107},{"date":"2021-01-09","county":"Sacramento","value":1.107},{"date":"2021-01-11","county":"Sacramento","value":1.089},{"date":"2021-01-12","county":"Sacramento","value":1.062},{"date":"2021-01-13","county":"Sacramento","value":0.953},{"date":"2021-01-14","county":"Sacramento","value":0.989},{"date":"2021-01-15","county":"Sacramento","value":0.953},{"date":"2021-01-16","county":"Sacramento","value":0.953},{"date":"2021-01-17","county":"Sacramento","value":0.75},{"date":"2021-01-18","county":"Sacramento","value":0.598},{"date":"2021-01-19","county":"Sacramento","value":0.735},{"date":"2021-01-20","county":"Sacramento","value":0.78},{"date":"2021-01-21","county":"Sacramento","value":0.76},{"date":"2021-01-22","county":"Sacramento","value":0.753},{"date":"2021-01-23","county":"Sacramento","value":0.707},
{"date":"2020-04-27","county":"Santa Clara","value":0.164},{"date":"2020-04-28","county":"Santa Clara","value":0.141},{"date":"2020-04-30","county":"Santa Clara","value":0.123},{"date":"2020-05-01","county":"Santa Clara","value":0.123},{"date":"2020-05-02","county":"Santa Clara","value":0.114},{"date":"2020-05-04","county":"Santa Clara","value":0.095},{"date":"2020-05-06","county":"Santa Clara","value":0.136},{"date":"2020-05-08","county":"Santa Clara","value":0.127},{"date":"2020-05-10","county":"Santa Clara","value":0.114},{"date":"2020-05-12","county":"Santa Clara","value":0.091},{"date":"2020-05-13","county":"Santa Clara","value":0.073},{"date":"2020-05-15","county":"Santa Clara","value":0.055},{"date":"2020-05-18","county":"Santa Clara","value":0.045},{"date":"2020-05-19","county":"Santa Clara","value":0.036},{"date":"2020-05-22","county":"Santa Clara","value":0.027},{"date":"2020-05-25","county":"Santa Clara","value":0.027},{"date":"2020-05-27","county":"Santa Clara","value":0.014},{"date":"2020-05-30","county":"Santa Clara","value":0.014},{"date":"2020-06-01","county":"Santa Clara","value":0.027},{"date":"2020-06-04","county":"Santa Clara","value":0.018},{"date":"2020-06-07","county":"Santa Clara","value":0.0},{"date":"2020-06-08","county":"Santa Clara","value":0.036},{"date":"2020-06-11","county":"Santa Clara","value":0.044},{"date":"2020-06-14","county":"Santa Clara","value":0.053},{"date":"2020-06-16","county":"Santa Clara","value":0.035},{"date":"2020-06-18","county":"Santa Clara","value":0.016},{"date":"2020-06-20","county":"Santa Clara","value":0.03},{"date":"2020-06-22","county":"Santa Clara","value":0.021},{"date":"2020-06-25","county":"Santa Clara","value":0.025},{"date":"2020-06-27","county":"Santa Clara","value":0.007},{"date":"2020-06-30","county":"Santa Clara","value":0.021},{"date":"2020-07-03","county":"Santa Clara","value":0.039},{"date":"2020-07-05","county":"Santa Clara","value":0.044},{"date":"2020-07-07","county":"Santa Clara","value":0.062},{"date":"2020-07-09","county":"Santa Clara","value":0.057},{"date":"2020-07-12","county":"Santa Clara","value":0.044},{"date":"2020-07-13","county":"Santa Clara","value":0.025},{"date":"2020-07-16","county":"Santa Clara","value":0.062},{"date":"2020-07-18","county":"Santa Clara","value":0.085},{"date":"2020-07-20","county":"Santa Clara","value":0.085},{"date":"2020-07-23","county":"Santa Clara","value":0.039},{"date":"2020-07-25","county":"Santa Clara","value":0.048},{"date":"2020-07-28","county":"Santa Clara","value":0.057},{"date":"2020-07-30","county":"Santa Clara","value":0.066},{"date":"2020-08-01","county":"Santa Clara","value":0.057},{"date":"2020-08-04","county":"Santa Clara","value":0.062},{"date":"2020-08-06","county":"Santa Clara","value":0.044},{"date":"2020-08-07","county":"Santa Clara","value":0.089},{"date":"2020-08-10","county":"Santa Clara","value":0.112},{"date":"2020-08-13","county":"Santa Clara","value":0.085},{"date":"2020-08-14","county":"Santa Clara","value":0.044},{"date":"2020-08-17","county":"Santa Clara","value":0.033},{"date":"2020-08-19","county":"Santa Clara","value":0.062},{"date":"2020-08-22","county":"Santa Clara","value":0.103},{"date":"2020-08-24","county":"Santa Clara","value":0.121},{"date":"2020-08-26","county":"Santa Clara","value":0.166},{"date":"2020-08-28","county":"Santa Clara","value":0.175},{"date":"2020-08-29","county":"Santa Clara","value":0.16},{"date":"2020-08-31","county":"Santa Clara","value":0.153},{"date":"2020-09-02","county":"Santa Clara","value":0.125},{"date":"2020-09-03","county":"Santa Clara","value":0.103},{"date":"2020-09-04","county":"Santa Clara","value":0.066},{"date":"2020-09-06","county":"Santa Clara","value":0.125},{"date":"2020-09-08","county":"Santa Clara","value":0.116},{"date":"2020-09-09","county":"Santa Clara","value":0.075},{"date":"2020-09-11","county":"Santa Clara","value":0.171},{"date":"2020-09-13","county":"Santa Clara","value":0.18},{"date":"2020-09-14","county":"Santa Clara","value":0.175},{"date":"2020-09-17","county":"Santa Clara","value":0.239},{"date":"2020-09-18","county":"Santa Clara","value":0.18},{"date":"2020-09-19","county":"Santa Clara","value":0.125},{"date":"2020-09-21","county":"Santa Clara","value":0.107},{"date":"2020-09-23","county":"Santa Clara","value":0.053},{"date":"2020-09-25","county":"Santa Clara","value":0.085},{"date":"2020-09-26","county":"Santa Clara","value":0.116},{"date":"2020-09-28","county":"Santa Clara","value":0.135},{"date":"2020-10-01","county":"Santa Clara","value":0.166},{"date":"2020-10-02","county":"Santa Clara","value":0.162},{"date":"2020-10-04","county":"Santa Clara","value":0.239},{"date":"2020-10-06","county":"Santa Clara","value":0.225},{"date":"2020-10-07","county":"Santa Clara","value":0.235},{"date":"2020-10-10","county":"Santa Clara","value":0.189},{"date":"2020-10-11","county":"Santa Clara","value":0.125},{"date":"2020-10-13","county":"Santa Clara","value":0.135},{"date":"2020-10-14","county":"Santa Clara","value":0.075},{"date":"2020-10-16","county":"Santa Clara","value":0.116},{"date":"2020-10-18","county":"Santa Clara","value":0.121},{"date":"2020-10-21","county":"Santa Clara","value":0.166},{"date":"2020-10-23","county":"Santa Clara","value":0.121},{"date":"2020-10-25","county":"Santa Clara","value":0.09},{"date":"2020-10-27","county":"Santa Clara","value":0.071},{"date":"2020-10-28","county":"Santa Clara","value":0.137},{"date":"2020-10-31","county":"Santa Clara","value":0.144},{"date":"2020-11-02","county":"Santa Clara","value":0.144},{"date":"2020-11-04","county":"Santa Clara","value":0.153},{"date":"2020-11-05","county":"Santa Clara","value":0.18},{"date":"2020-11-07","county":"Santa Clara","value":0.185},{"date":"2020-11-09","county":"Santa Clara","value":0.203},{"date":"2020-11-10","county":"Santa Clara","value":0.175},{"date":"2020-11-13","county":"Santa Clara","value":0.116},{"date":"2020-11-15","county":"Santa Clara","value":0.107},{"date":"2020-11-17","county":"Santa Clara","value":0.085},{"date":"2020-11-19","county":"Santa Clara","value":0.144},{"date":"2020-11-21","county":"Santa Clara","value":0.144},{"date":"2020-11-24","county":"Santa Clara","value":0.148},{"date":"2020-11-26","county":"Santa Clara","value":0.125},{"date":"2020-11-28","county":"Santa Clara","value":0.107},{"date":"2020-11-30","county":"Santa Clara","value":0.089},{"date":"2020-12-02","county":"Santa Clara","value":0.13},{"date":"2020-12-04","county":"Santa Clara","value":0.198},{"date":"2020-12-05","county":"Santa Clara","value":0.207},{"date":"2020-12-06","county":"Santa Clara","value":0.212},{"date":"2020-12-07","county":"Santa Clara","value":0.262},{"date":"2020-12-09","county":"Santa Clara","value":0.21},{"date":"2020-12-10","county":"Santa Clara","value":0.18},{"date":"2020-12-11","county":"Santa Clara","value":0.185},{"date":"2020-12-13","county":"Santa Clara","value":0.18},{"date":"2020-12-14","county":"Santa Clara","value":0.135},{"date":"2020-12-15","county":"Santa Clara","value":0.307},{"date":"2020-12-17","county":"Santa Clara","value":0.348},{"date":"2020-12-18","county":"Santa Clara","value":0.425},{"date":"2020-12-20","county":"Santa Clara","value":0.43},{"date":"2020-12-21","county":"Santa Clara","value":0.58},{"date":"2020-12-22","county":"Santa Clara","value":0.457},{"date":"2020-12-24","county":"Santa Clara","value":0.571},{"date":"2020-12-25","county":"Santa Clara","value":0.448},{"date":"2020-12-26","county":"Santa Clara","value":0.516},{"date":"2020-12-27","county":"Santa Clara","value":0.512},{"date":"2020-12-28","county":"Santa Clara","value":0.339},{"date":"2020-12-29","county":"Santa Clara","value":0.45},{"date":"2020-12-30","county":"Santa Clara","value":0.307},{"date":"2020-12-31","county":"Santa Clara","value":0.589},{"date":"2021-01-01","county":"Santa Clara","value":0.771},{"date":"2021-01-02","county":"Santa Clara","value":0.703},{"date":"2021-01-04","county":"Santa Clara","value":0.703},{"date":"2021-01-05","county":"Santa Clara","value":0.85},{"date":"2021-01-06","county":"Santa Clara","value":0.935},{"date":"2021-01-07","county":"Santa Clara","value":0.8},{"date":"2021-01-09","county":"Santa Clara","value":1.0},{"date":"2021-01-10","county":"Santa Clara","value":1.016},{"date":"2021-01-11","county":"Santa Clara","value":1.457},{"date":"2021-01-12","county":"Santa Clara","value":1.594},{"date":"2021-01-14","county":"Santa Clara","value":1.58},{"date":"2021-01-16","county":"Santa Clara","value":1.344},{"date":"2021-01-17","county":"Santa Clara","value":1.353},{"date":"2021-01-18","county":"Santa Clara","value":1.125},{"date":"2021-01-19","county":"Santa Clara","value":0.971},{"date":"2021-01-20","county":"Santa Clara","value":0.88},{"date":"2021-01-21","county":"Santa Clara","value":0.953},{"date":"2021-01-22","county":"Santa Clara","value":1.048},{"date":"2021-01-23","county":"Santa Clara","value":0.903}
]
},
"resolve": {"axis": {"x": "independent", "y": "independent"}},
"layer": [
{
"data": {"name": "deaths"},
"mark": {"type": "line", "strokeWidth": 5.5, "strokeJoin": "round", "strokeCap": "butt", "clip": true},
"encoding": {
"x": {"field": "date", "type": "temporal",
 "scale": {"type": "utc", "domain": [{"year": 2020, "month": 4, "date": 27, "utc": true}, {"year": 2021, "month": 1, "date": 30, "utc": true}]},
 "axis": {"values": [{"year":2020,"month":5,"date":4,"utc":true},{"year":2020,"month":5,"date":25,"utc":true},{"year":2020,"month":6,"date":15,"utc":true},{"year":2020,"month":7,"date":6,"utc":true},{"year":2020,"month":7,"date":27,"utc":true},{"year":2020,"month":8,"date":17,"utc":true},{"year":2020,"month":9,"date":7,"utc":true},{"year":2020,"month":9,"date":28,"utc":true},{"year":2020,"month":10,"date":19,"utc":true},{"year":2020,"month":11,"date":9,"utc":true},{"year":2020,"month":11,"date":30,"utc":true},{"year":2020,"month":12,"date":21,"utc":true},{"year":2021,"month":1,"date":11,"utc":true}],
  "format": "%b %d", "labelFontSize": 23.5, "labelColor": "#4D4D4D", "labelPadding": 8, "labelFlush": false, "labelOverlap": false,
  "tickSize": 8, "tickWidth": 2, "tickColor": "#333333", "domain": false,
  "grid": true, "gridColor": "#EBEBEB", "gridWidth": 2.4, "zindex": 0,
  "title": "Date", "titleFontSize": 33, "titleFontWeight": "normal", "titleColor": "#000000", "titleY": 75, "titleBaseline": "alphabetic"}},
"y": {"field": "value", "type": "quantitative",
 "scale": {"domain": [-0.1636, 1.6745], "nice": false, "zero": false},
 "axis": {"values": [0, 0.5, 1, 1.5], "format": ".2f", "labelFontSize": 23, "labelColor": "#4D4D4D", "labelPadding": 8,
  "tickSize": 8, "tickWidth": 2, "tickColor": "#333333", "domain": false,
  "grid": true, "gridColor": "#EBEBEB", "gridWidth": 2.4, "zindex": 0,
  "title": ["New Daily Deaths due to COVID-19", "per 100,000 People"], "titleFontSize": 33, "titleFontWeight": "normal", "titleColor": "#000000",
  "titleLineHeight": 41, "titleAlign": "center", "titleBaseline": "top", "titleX": -144, "titleY": 337}},
"color": {"field": "county", "type": "nominal",
 "scale": {"domain": ["Alameda", "Contra Costa", "Orange", "Sacramento", "Santa Clara"], "range": ["#56B4E9", "#C9A0E3", "#E69F00", "#CC6262", "#0072B2"]},
 "legend": {"orient": "none", "legendX": 22, "legendY": 811, "direction": "horizontal", "title": "County", "titleOrient": "left",
  "titleFontSize": 33, "titleFontWeight": "normal", "titleColor": "#000000", "titlePadding": 16,
  "labelFontSize": 24, "labelColor": "#000000", "labelOffset": 18,
  "symbolType": "stroke", "symbolStrokeWidth": 8, "symbolSize": 1369, "columnPadding": 14}}
}
},
{
"data": {"name": "band"},
"mark": {"type": "rect", "color": "#808080", "opacity": 0.27, "clip": true},
"encoding": {
"x": {"field": "start", "type": "temporal",
 "scale": {"type": "utc", "domain": [{"year": 2020, "month": 4, "date": 27, "utc": true}, {"year": 2021, "month": 1, "date": 30, "utc": true}]},
 "axis": {"orient": "top", "values": [{"year":2020,"month":5,"date":14,"hours":12,"utc":true},{"year":2020,"month":6,"date":4,"hours":12,"utc":true},{"year":2020,"month":6,"date":25,"hours":12,"utc":true},{"year":2020,"month":7,"date":16,"hours":12,"utc":true},{"year":2020,"month":8,"date":6,"hours":12,"utc":true},{"year":2020,"month":8,"date":27,"hours":12,"utc":true},{"year":2020,"month":9,"date":17,"hours":12,"utc":true},{"year":2020,"month":10,"date":8,"hours":12,"utc":true},{"year":2020,"month":10,"date":29,"hours":12,"utc":true},{"year":2020,"month":11,"date":19,"hours":12,"utc":true},{"year":2020,"month":12,"date":10,"hours":12,"utc":true},{"year":2020,"month":12,"date":31,"hours":12,"utc":true},{"year":2021,"month":1,"date":21,"hours":12,"utc":true}],
  "grid": true, "gridColor": "#EBEBEB", "gridWidth": 1.3, "labels": false, "ticks": false, "domain": false, "title": null, "zindex": 0}},
"x2": {"field": "end"}
}
},
{
"data": {"name": "wm"},
"mark": {"type": "text", "fontSize": 41, "color": "#0072B2", "opacity": 0.4, "align": "center", "baseline": "middle", "font": "Liberation Sans"},
"encoding": {
"x": {"field": "date", "type": "temporal",
 "scale": {"type": "utc", "domain": [{"year": 2020, "month": 4, "date": 27, "utc": true}, {"year": 2021, "month": 1, "date": 30, "utc": true}]}, "axis": null},
"y": {"field": "value", "type": "quantitative", "scale": {"domain": [-0.1636, 1.6745], "nice": false, "zero": false},
 "axis": {"orient": "right", "values": [0.25, 0.75, 1.25], "grid": true, "gridColor": "#EBEBEB", "gridWidth": 1.3, "labels": false, "ticks": false, "domain": false, "title": null, "zindex": 0}},
"text": {"field": "label"}
}
},
{
"data": {"name": "note"},
"mark": {"type": "text", "fontSize": 29.5, "color": "#000000", "align": "center", "baseline": "middle", "lineBreak": "\n", "lineHeight": 42, "font": "Liberation Sans"},
"encoding": {
"x": {"field": "date", "type": "temporal",
 "scale": {"type": "utc", "domain": [{"year": 2020, "month": 4, "date": 27, "utc": true}, {"year": 2021, "month": 1, "date": 30, "utc": true}]}, "axis": null},
"y": {"field": "value", "type": "quantitative", "scale": {"domain": [-0.1636, 1.6745], "nice": false, "zero": false}, "axis": null},
"text": {"field": "label"}
}
}
]
}
